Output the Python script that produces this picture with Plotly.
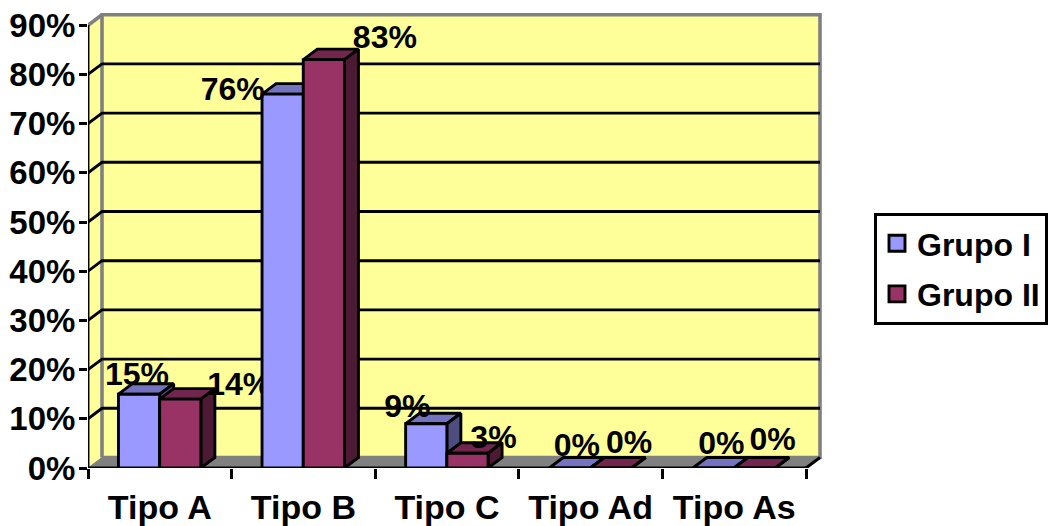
import plotly.graph_objects as go

# Chart data
categories = ["Tipo A", "Tipo B", "Tipo C", "Tipo Ad", "Tipo As"]
grupo_i = [15, 76, 9, 0, 0]
grupo_ii = [14, 83, 3, 0, 0]
y_ticks = [0, 10, 20, 30, 40, 50, 60, 70, 80, 90]

# Pixel layout of the plot box
LEFT, TOP, RIGHT, BASE = 88, 8, 826, 468
CAT_PX = 143.6
PCT_PX = 4.92
DEPTH_X_PX, DEPTH_Y_PX = 14, 10.5
DX = DEPTH_X_PX / CAT_PX
DY = DEPTH_Y_PX / PCT_PX
BAR_START = 0.212
BAR_W = 0.287
LINE = 2.9

FONT = "Liberation Sans"
BLUE = dict(front="#9999FF", top="#7373BF", side="#4D4D80", name="Grupo I")
RED = dict(front="#993366", top="#73264D", side="#4D1A33", name="Grupo II")

# Label offsets from the bar's front-top centre, in pixels (right, up)
shift_i = [(-2, 17), (-50, 2), (-19, 15), (7, 20), (8, 22)]
shift_ii = [(59, 12), (61, 20), (26, 13), (18, 23), (18, 26)]

fig = go.Figure()


def poly(xs, ys, fill=None, color="black", width=LINE):
    """Add a closed polygon or an open polyline in data coordinates."""
    fig.add_trace(go.Scatter(
        x=xs, y=ys, mode="lines",
        fill="toself" if fill else None, fillcolor=fill,
        line=dict(color=color, width=width),
        hoverinfo="skip", showlegend=False, cliponaxis=False,
    ))


n = len(categories)

# Back wall, side wall and floor
poly([0, DX, DX, 0, 0], [0, DY, 90 + DY, 90, 0], fill="#FFFF99", color="rgba(0,0,0,0)", width=0)
poly([DX, n + DX, n + DX, DX, DX], [DY, DY, 90 + DY, 90 + DY, DY], fill="#FFFF99", color="#808080", width=3.6)
poly([0, DX], [90, 90 + DY], color="#808080", width=3.6)
poly([0, n, n + DX, DX, 0], [0, 0, DY, DY, 0], fill="#808080", color="#808080", width=1)

# Gridlines across both walls
for v in y_ticks[1:-1]:
    poly([0, DX, n + DX], [v, v + DY, v + DY])
poly([n, n + DX], [0, DY])

# Front axis lines
poly([0, 0], [0, 90])
poly([0, n], [0, 0], width=3.2)


def bar(x0, value, style, label_shift):
    """Draw one 3D bar with its value label, painted in category order."""
    x1 = x0 + BAR_W
    poly([x0, x1, x1 + DX, x0 + DX, x0], [value, value, value + DY, value + DY, value], fill=style["top"])
    poly([x1, x1 + DX, x1 + DX, x1, x1], [0, DY, value + DY, value, 0], fill=style["side"])
    poly([x0, x1, x1, x0, x0], [0, 0, value, value, 0], fill=style["front"])
    fig.add_trace(go.Scatter(
        x=[x0 + BAR_W / 2 + label_shift[0] / CAT_PX],
        y=[value + label_shift[1] / PCT_PX],
        mode="text", text=[f"{value}%"], textposition="middle center",
        textfont=dict(family=FONT, size=32, color="black", weight="bold"),
        hoverinfo="skip", showlegend=False, cliponaxis=False,
    ))


for i in range(n):
    bar(i + BAR_START, grupo_i[i], BLUE, shift_i[i])
    bar(i + BAR_START + BAR_W, grupo_ii[i], RED, shift_ii[i])

# Legend entries
for style in (BLUE, RED):
    fig.add_trace(go.Scatter(
        x=[None], y=[None], mode="markers", name=style["name"],
        legendgroup=style["name"],
        marker=dict(symbol="square", size=18, color=style["front"], line=dict(color="black", width=LINE)),
    ))

fig.update_layout(
    width=1048, height=526, autosize=False,
    margin=dict(l=LEFT, r=1048 - RIGHT, t=TOP, b=526 - BASE, pad=0, autoexpand=False),
    paper_bgcolor="white", plot_bgcolor="white",
    font=dict(family=FONT, size=32, color="black", weight="bold"),
    xaxis=dict(
        automargin=False,
        range=[0, (RIGHT - LEFT) / CAT_PX], showgrid=False, zeroline=False, showline=False,
        tickmode="array", tickvals=[i + 0.5 for i in range(n)], ticktext=categories,
        ticks="outside", ticklen=9, tickcolor="rgba(0,0,0,0)", tickwidth=1,
        minor=dict(tickmode="array", tickvals=list(range(n + 1)), ticks="outside", ticklen=10, tickwidth=LINE, tickcolor="black", showgrid=False),
        tickfont=dict(family=FONT, size=34, color="black", weight="bold"),
    ),
    yaxis=dict(
        automargin=False,
        range=[0, (BASE - TOP) / PCT_PX], showgrid=False, zeroline=False, showline=False,
        tickmode="array", tickvals=y_ticks, ticktext=[f"{v}%" for v in y_ticks],
        ticks="outside", ticklen=8, tickwidth=LINE, tickcolor="black", ticklabelstandoff=-3,
        tickfont=dict(family=FONT, size=33, color="black", weight="bold"),
    ),
    showlegend=True,
    legend=dict(
        x=874 / 1048, y=1 - 213 / 526, xref="container", yref="container", xanchor="left", yanchor="top",
        bgcolor="white", bordercolor="black", borderwidth=3,
        font=dict(family=FONT, size=32, color="black", weight="bold"),
        itemsizing="trace", tracegroupgap=6, traceorder="grouped", itemwidth=30,
    ),
)

fig.write_html("out.html")
